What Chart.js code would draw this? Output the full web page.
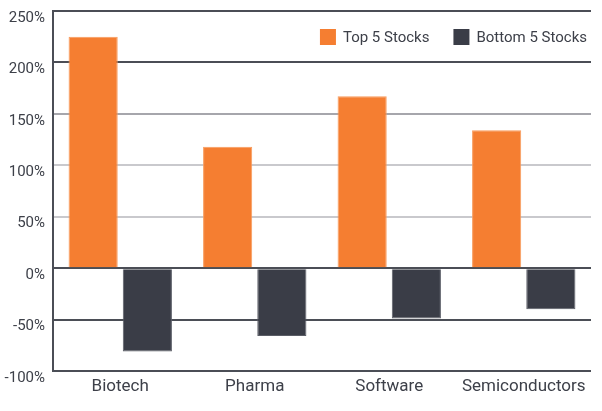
<!DOCTYPE html>
<html>
<head>
<meta charset="utf-8">
<script src="https://cdn.jsdelivr.net/npm/chart.js@4/dist/chart.umd.min.js"></script>
<style>
  html, body { margin: 0; padding: 0; background: #fff; }
  #wrap { width: 602px; height: 411px; }
</style>
</head>
<body>
<div id="wrap"><canvas id="sectorChart"></canvas></div>
<script>
// 値は画像から読み取り
const sectors = ['Biotech', 'Pharma', 'Software', 'Semiconductors'];
const topFive = [225, 118, 167, 134];
const bottomFive = [-81, -66, -49, -40];
const yTicks = [-100, -50, 0, 50, 100, 150, 200, 250];

const ORANGE = '#f57e31';
const DARK = '#3a3d47';
const TEXT = '#3d4049';

// チャートエリア内の凡例（右上）
const innerLegend = {
    id: 'innerLegend',
    afterDraw(chart) {
        const ctx = chart.ctx;
        const area = chart.chartArea;
        const items = chart.data.datasets;
        ctx.save();
        ctx.font = '15px Roboto';
        ctx.textBaseline = 'middle';
        const box = 16, gap = 7, spacing = 24;
        let x = area.right - 4;
        const y = area.top + 26;
        for (let i = items.length - 1; i >= 0; i--) {
            const w = ctx.measureText(items[i].label).width;
            x -= w;
            ctx.fillStyle = TEXT;
            ctx.fillText(items[i].label, x, y + 1);
            x -= gap + box;
            ctx.fillStyle = items[i].backgroundColor;
            ctx.fillRect(x, y - box / 2, box, box);
            x -= spacing;
        }
        ctx.restore();
    }
};

function gridColor(c) {
    const v = c.tick ? c.tick.value : null;
    if (v === 150) return '#a6a6ac';
    if (v === 100 || v === 50) return '#c9c9cd';
    return '#4b4e56';
}

new Chart(document.getElementById('sectorChart'), {
    type: 'bar',
    data: {
        labels: sectors,
        datasets: [
            {
                label: 'Top 5 Stocks',
                data: topFive,
                backgroundColor: ORANGE,
                borderColor: '#f89b5c',
                borderWidth: 1,
                categoryPercentage: 0.806,
                barPercentage: 0.907
            },
            {
                label: 'Bottom 5 Stocks',
                data: bottomFive,
                backgroundColor: DARK,
                borderColor: '#5a5d66',
                borderWidth: 1,
                categoryPercentage: 0.806,
                barPercentage: 0.907
            }
        ]
    },
    options: {
        responsive: true,
        maintainAspectRatio: false,
        animation: false,
        layout: { padding: { top: 11, right: 11, left: 0, bottom: 0 } },
        plugins: {
            legend: { display: false },
            tooltip: { enabled: false }
        },
        scales: {
            x: {
                grid: { display: false, drawTicks: false },
                border: { display: false },
                ticks: { color: TEXT, font: { family: 'Roboto', size: 17 }, padding: 6 },
                afterFit: s => { s.height = 40; }
            },
            y: {
                min: -100,
                max: 250,
                afterBuildTicks: s => { s.ticks = yTicks.map(v => ({ value: v })); },
                grid: { color: gridColor, lineWidth: 2, drawTicks: false },
                border: { display: true, color: '#4b4e56', width: 2 },
                ticks: {
                    color: TEXT,
                    font: { family: 'Roboto', size: 15 },
                    padding: 8,
                    labelOffset: 7,
                    callback: v => v + '%'
                },
                afterFit: s => { s.width = 53; s.paddingTop = 0; s.paddingBottom = 0; }
            }
        }
    },
    plugins: [innerLegend]
});
</script>
</body>
</html>
